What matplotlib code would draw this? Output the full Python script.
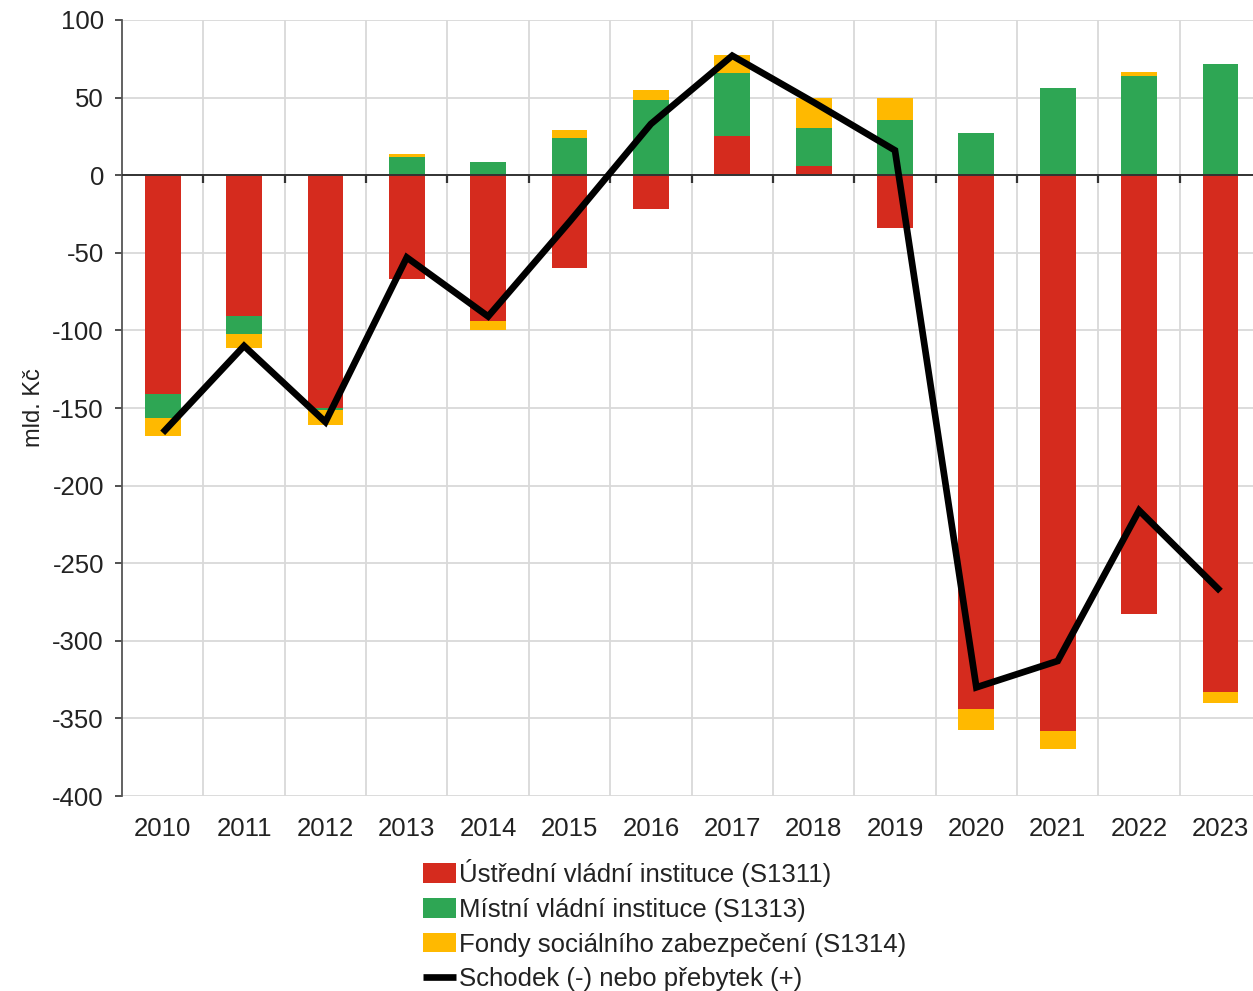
import numpy as np
import matplotlib
matplotlib.use("Agg")
import matplotlib.pyplot as plt
from matplotlib.markers import TICKDOWN

plt.rcParams['font.family'] = ['Liberation Sans', 'DejaVu Sans']
plt.rcParams['axes.unicode_minus'] = False

years = ['2010', '2011', '2012', '2013', '2014', '2015', '2016',
         '2017', '2018', '2019', '2020', '2021', '2022', '2023']
ustredni = [-141, -91, -150, -67, -94, -60, -22, 25, 6, -34, -344, -358, -283, -333]
mistni = [-15.5, -11.5, -1.5, 11.5, 8.5, 24, 48.5, 41, 24.5, 35.5, 27.5, 56, 64, 71.5]
fondy = [-11.5, -9, -9.5, 2, -5.5, 5, 6.5, 11.5, 19, 14, -13.5, -11.5, 2.5, -7]
saldo = [-166, -110, -159, -53, -91, -30, 33, 77, 47, 16, -330, -313, -216, -268]

labels = ['Ústřední vládní instituce (S1311)', 'Místní vládní instituce (S1313)',
          'Fondy sociálního zabezpečení (S1314)', 'Schodek (-) nebo přebytek (+)']
colors = ['#D52B1E', '#2EA654', '#FFB900']

fig = plt.figure(figsize=(12.53, 9.91), dpi=100)
ax = fig.add_axes([122 / 1253, 1 - 796 / 991, (1253 - 122) / 1253, 776 / 991])

x = np.arange(len(years))
pos = np.zeros(len(years))
neg = np.zeros(len(years))
handles = []
for vals, col, lab in zip([ustredni, mistni, fondy], colors, labels):
    v = np.array(vals, dtype=float)
    bottom = np.where(v >= 0, pos, neg)
    b = ax.bar(x, v, 0.44, bottom=bottom, color=col, label=lab, zorder=2)
    handles.append(b)
    pos = pos + np.where(v >= 0, v, 0)
    neg = neg + np.where(v < 0, v, 0)

ax.axhline(0, color='#333333', lw=1.4, zorder=3)
ax.plot(x[:-1] + 0.5, np.zeros(len(x) - 1), ls='none', marker=TICKDOWN,
        ms=6, mew=1.6, color='#333333', zorder=3)
line, = ax.plot(x, saldo, color='black', lw=4.8, solid_joinstyle='miter',
                solid_capstyle='butt', label=labels[3], zorder=4)
handles.append(line)

ax.set_ylim(-400, 100)
ax.set_xlim(-0.5, 13.4)
ax.set_yticks(np.arange(-400, 101, 50))
ax.set_xticks(x)
ax.set_xticklabels(years)
ax.set_xticks(x[:-1] + 0.5, minor=True)
ax.grid(True, axis='y', color='#D9D9D9', lw=1.3, zorder=0)
ax.grid(True, axis='x', which='minor', color='#D9D9D9', lw=1.3, zorder=0)
ax.tick_params(axis='x', which='both', length=0, pad=15, labelsize=18.5, colors='#222222')
ax.tick_params(axis='y', length=5, width=1.2, pad=8, labelsize=18.5, colors='#333333', labelcolor='#222222')
for s in ['top', 'right', 'bottom']:
    ax.spines[s].set_visible(False)
ax.spines['left'].set_color('#555555')
ax.spines['left'].set_linewidth(1.3)
ax.set_ylabel('mld. Kč', fontsize=17, color='#222222')
ax.yaxis.set_label_coords(-0.068, 0.5)

fig.legend(handles=handles, labels=labels, loc='upper left',
           bbox_to_anchor=(423 / 1253, 1 - 859 / 991), frameon=False,
           fontsize=18.5, handlelength=1.3, handleheight=0.8, handletextpad=0.1,
           labelspacing=0.42, borderpad=0, borderaxespad=0, labelcolor='#222222')

fig.savefig('out.png', dpi=100)
